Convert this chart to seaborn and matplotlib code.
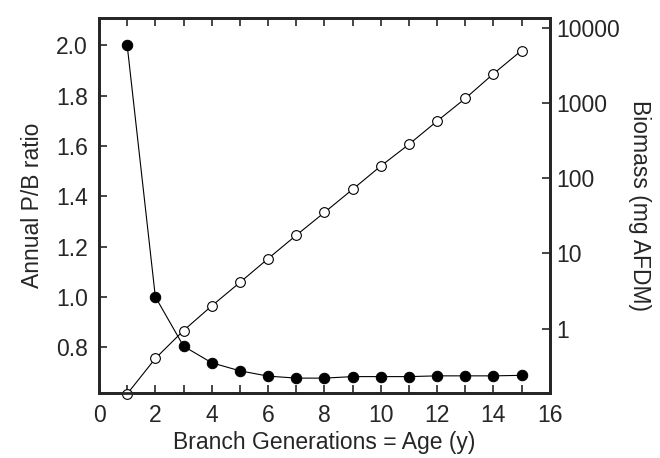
import matplotlib
matplotlib.use("Agg")
import matplotlib.pyplot as plt
import seaborn as sns
import pandas as pd
import numpy as np

# Branch generation (= age in years)
age = [1, 2, 3, 4, 5, 6, 7, 8, 9, 10, 11, 12, 13, 14, 15]
# Annual production / biomass ratio (filled circles, left axis)
pb_ratio = [2.0, 1.0, 0.804, 0.738, 0.706, 0.685, 0.677, 0.677, 0.683,
            0.683, 0.683, 0.686, 0.686, 0.686, 0.688]
# Biomass in mg AFDM (open circles, right log axis)
biomass = [0.135, 0.40, 0.94, 2.0, 4.1, 8.5, 17.4, 35, 71, 145, 282, 575,
           1150, 2450, 5000]

left_ticks = [0.8, 1.0, 1.2, 1.4, 1.6, 1.8, 2.0]
right_ticks = [1, 10, 100, 1000, 10000]
x_ticks = [0, 2, 4, 6, 8, 10, 12, 14, 16]

df = pd.DataFrame({"age": age, "pb": pb_ratio, "biomass": biomass})

sns.set_style("ticks")
plt.rcParams["font.family"] = ["Liberation Sans", "DejaVu Sans"]

FS = 16.5

fig = plt.figure(figsize=(6.6, 4.58), dpi=100)
ax = fig.add_axes([0.150, 0.142, 0.683, 0.818])
ax2 = ax.twinx()

sns.lineplot(data=df, x="age", y="pb", ax=ax, color="black", lw=0.8,
             marker="o", markersize=7.5, markerfacecolor="black",
             markeredgecolor="black", clip_on=False)
sns.lineplot(data=df, x="age", y="biomass", ax=ax2, color="black", lw=0.8,
             marker="o", markersize=7, markerfacecolor="white",
             markeredgecolor="black", markeredgewidth=0.8, clip_on=False)

ax.set_xlim(0, 16)
ax.set_ylim(0.618, 2.107)
ax2.set_yscale("log")
ax2.set_ylim(0.139, 13400)

ax.set_xticks(x_ticks)
ax.set_xticks(age, minor=True)
ax.set_yticks(left_ticks)
ax.set_yticklabels([f"{v:.1f}" for v in left_ticks])
ax2.set_yticks(right_ticks)
ax2.set_yticklabels([str(v) for v in right_ticks])
ax2.yaxis.set_minor_locator(matplotlib.ticker.NullLocator())

ax.tick_params(axis="x", which="both", direction="in", top=True, length=6,
               width=1.2, labelsize=FS, pad=8)
ax.tick_params(axis="y", which="both", direction="in", length=6, width=1.2,
               labelsize=FS, pad=8)
ax2.tick_params(axis="y", which="both", direction="in", length=6, width=1.2,
                labelsize=FS, pad=5)

for a in (ax, ax2):
    for s in a.spines.values():
        s.set_visible(True)
        s.set_linewidth(2)

ax.set_xlabel("Branch Generations = Age (y)", fontsize=FS, labelpad=3)
ax.set_ylabel("Annual P/B ratio", fontsize=FS, labelpad=9)
ax2.set_ylabel("Biomass (mg AFDM)", fontsize=FS, rotation=-90, labelpad=22)

fig.savefig("out.png", dpi=100, facecolor="white")
